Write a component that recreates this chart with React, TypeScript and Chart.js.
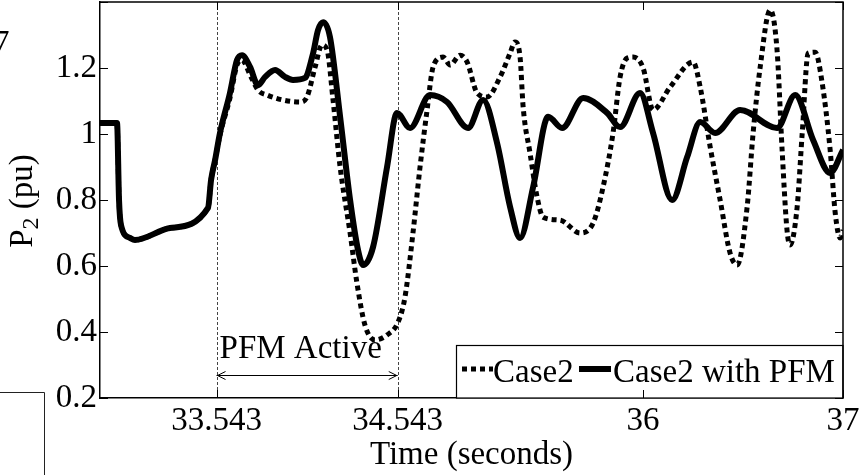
import React, { useEffect, useRef } from "react";
import { Chart, registerables } from "chart.js";

Chart.register(...registerables);

// Time axis (seconds) and tick labels
const xTickValues = [33.543, 34.543, 35.897, 37.0];
const xTickLabels = ["33.543", "34.543", "36", "37"];
const pfmStart = 33.543;
const pfmEnd = 34.543;

// Case2 (dotted)
const case2Time = [
  32.9, 32.994, 33.005, 33.016, 33.066, 33.093, 33.286, 33.496, 33.513, 33.535,
  33.562, 33.617, 33.656, 33.684, 33.728, 33.772, 33.822, 33.91, 34.004, 34.042,
  34.087, 34.125, 34.153, 34.186, 34.225, 34.28, 34.318, 34.362, 34.418, 34.484,
  34.545, 34.583, 34.627, 34.666, 34.705, 34.738, 34.793, 34.832, 34.887, 34.926,
  34.981, 35.036, 35.108, 35.163, 35.19, 35.218, 35.235, 35.273, 35.312, 35.345,
  35.439, 35.549, 35.621, 35.676, 35.731, 35.77, 35.809, 35.842, 35.897, 35.952,
  36.046, 36.173, 36.212, 36.267, 36.322, 36.377, 36.416, 36.471, 36.504, 36.543,
  36.598, 36.636, 36.664, 36.691, 36.708, 36.747, 36.775, 36.808, 36.846, 36.885,
  36.929, 36.957, 36.984, 37.0,
];
const case2Power = [
  1.033, 1.033, 0.8, 0.724, 0.685, 0.679, 0.715, 0.776, 0.861, 0.921,
  0.997, 1.109, 1.209, 1.224, 1.179, 1.133, 1.118, 1.103, 1.097, 1.112,
  1.203, 1.27, 1.255, 1.103, 0.9, 0.7, 0.548, 0.421, 0.376, 0.391,
  0.43, 0.506, 0.7, 0.9, 1.073, 1.203, 1.233, 1.209, 1.239, 1.218,
  1.124, 1.112, 1.173, 1.245, 1.279, 1.233, 1.082, 0.942, 0.809, 0.748,
  0.739, 0.7, 0.73, 0.839, 1.003, 1.173, 1.23, 1.233, 1.2, 1.073,
  1.142, 1.218, 1.142, 0.961, 0.8, 0.639, 0.603, 0.779, 1.003, 1.203,
  1.376, 1.255, 0.952, 0.709, 0.664, 0.779, 1.003, 1.245, 1.248, 1.155,
  0.952, 0.761, 0.685, 0.709,
];

// Case2 with PFM (solid)
const pfmTime = [
  32.9, 32.994, 33.005, 33.016, 33.066, 33.093, 33.286, 33.496, 33.513, 33.535,
  33.562, 33.617, 33.656, 33.684, 33.728, 33.772, 33.811, 33.866, 33.921, 33.965,
  34.031, 34.076, 34.103, 34.131, 34.169, 34.225, 34.28, 34.324, 34.352, 34.407,
  34.484, 34.539, 34.611, 34.721, 34.815, 34.931, 35.014, 35.091, 35.163, 35.218,
  35.29, 35.373, 35.45, 35.566, 35.698, 35.77, 35.88, 35.952, 36.057, 36.14,
  36.212, 36.294, 36.432, 36.636, 36.736, 36.835, 36.929, 37.0,
];
const pfmPower = [
  1.033, 1.033, 0.8, 0.724, 0.685, 0.679, 0.715, 0.776, 0.861, 0.921,
  1.003, 1.124, 1.224, 1.239, 1.203, 1.148, 1.173, 1.194, 1.173, 1.164,
  1.17, 1.245, 1.315, 1.339, 1.294, 1.052, 0.8, 0.648, 0.603, 0.658,
  0.9, 1.064, 1.018, 1.118, 1.097, 1.018, 1.103, 0.973, 0.779, 0.685,
  0.839, 1.052, 1.018, 1.109, 1.064, 1.021, 1.124, 1.003, 0.8, 0.93,
  1.036, 1.003, 1.073, 1.018, 1.118, 0.982, 0.882, 0.952,
];

const FONT = "'Liberation Serif', 'Times New Roman', serif";

const overlayPlugin = {
  id: "matlabOverlay",
  beforeDatasetsDraw(chart: any) {
    const { ctx, chartArea, scales } = chart;
    const x = scales.x;
    ctx.save();
    ctx.strokeStyle = "#444";
    ctx.lineWidth = 1;
    ctx.setLineDash([3, 2]);
    [pfmStart, pfmEnd].forEach((t) => {
      const px = Math.round(x.getPixelForValue(t)) + 0.5;
      ctx.beginPath();
      ctx.moveTo(px, chartArea.top);
      ctx.lineTo(px, chartArea.bottom);
      ctx.stroke();
    });
    ctx.restore();
  },
  afterDraw(chart: any) {
    const { ctx, chartArea, scales } = chart;
    const x = scales.x;
    const y = scales.y;
    const { left, right, top, bottom } = chartArea;
    ctx.save();

    // arrow + text
    const a = x.getPixelForValue(pfmStart);
    const b = x.getPixelForValue(pfmEnd);
    const ay = 375.5;
    ctx.strokeStyle = "#000";
    ctx.lineWidth = 1;
    ctx.setLineDash([]);
    ctx.beginPath();
    ctx.moveTo(a, ay);
    ctx.lineTo(b, ay);
    ctx.moveTo(a + 9, ay - 4);
    ctx.lineTo(a + 1, ay);
    ctx.lineTo(a + 9, ay + 4);
    ctx.moveTo(b - 9, ay - 4);
    ctx.lineTo(b - 1, ay);
    ctx.lineTo(b - 9, ay + 4);
    ctx.stroke();
    ctx.fillStyle = "#000";
    ctx.font = `33px ${FONT}`;
    ctx.textAlign = "left";
    ctx.textBaseline = "alphabetic";
    ctx.fillText("PFM Active", a + 3, 358);

    // legend
    const lx0 = 456.5, ly0 = 345.5, lx1 = right, ly1 = bottom;
    ctx.fillStyle = "#fff";
    ctx.fillRect(lx0, ly0, lx1 - lx0, ly1 - ly0);
    ctx.strokeStyle = "#000";
    ctx.lineWidth = 1.2;
    ctx.strokeRect(lx0, ly0, lx1 - lx0, ly1 - ly0);
    ctx.lineWidth = 5;
    ctx.lineCap = "butt";
    ctx.setLineDash([5, 4]);
    ctx.beginPath();
    ctx.moveTo(462, 369);
    ctx.lineTo(493, 369);
    ctx.stroke();
    ctx.setLineDash([]);
    ctx.lineWidth = 6;
    ctx.beginPath();
    ctx.moveTo(579, 369);
    ctx.lineTo(611, 369);
    ctx.stroke();
    ctx.fillStyle = "#000";
    ctx.font = `33px ${FONT}`;
    ctx.fillText("Case2", 493, 382);
    ctx.fillText("Case2 with PFM", 613, 382);

    // box top & right, inward ticks
    ctx.strokeStyle = "#000";
    ctx.lineWidth = 1.5;
    ctx.beginPath();
    ctx.moveTo(left, top);
    ctx.lineTo(right, top);
    ctx.lineTo(right, bottom);
    ctx.stroke();
    ctx.lineWidth = 1;
    ctx.beginPath();
    y.ticks.forEach((t: any) => {
      const py = Math.round(y.getPixelForValue(t.value)) + 0.5;
      ctx.moveTo(left, py);
      ctx.lineTo(left + 8, py);
      ctx.moveTo(right, py);
      ctx.lineTo(right - 8, py);
    });
    x.ticks.forEach((t: any) => {
      const px = Math.round(x.getPixelForValue(t.value)) + 0.5;
      ctx.moveTo(px, top);
      ctx.lineTo(px, top + 8);
      ctx.moveTo(px, bottom);
      ctx.lineTo(px, bottom - 8);
    });
    ctx.stroke();

    // y title P_2 (pu)
    ctx.save();
    ctx.translate(32, 201);
    ctx.rotate(-Math.PI / 2);
    ctx.fillStyle = "#000";
    ctx.textAlign = "left";
    ctx.textBaseline = "alphabetic";
    ctx.font = `33px ${FONT}`;
    const wP = ctx.measureText("P").width;
    const wRest = ctx.measureText(" (pu)").width;
    ctx.font = `24px ${FONT}`;
    const w2 = ctx.measureText("2").width;
    const total = wP + w2 + wRest;
    let cx = -total / 2;
    ctx.font = `33px ${FONT}`;
    ctx.fillText("P", cx, 0);
    cx += wP;
    ctx.font = `24px ${FONT}`;
    ctx.fillText("2", cx, 6);
    cx += w2;
    ctx.font = `33px ${FONT}`;
    ctx.fillText(" (pu)", cx, 0);
    ctx.restore();

    // x title
    ctx.font = `33px ${FONT}`;
    ctx.textAlign = "center";
    ctx.fillText("Time (seconds)", (left + right) / 2, 464);

    // fragments of neighbouring figure
    ctx.textAlign = "left";
    ctx.fillText("7", -7, 53);
    ctx.strokeStyle = "#222";
    ctx.lineWidth = 1;
    ctx.beginPath();
    ctx.moveTo(0, 392.5);
    ctx.lineTo(44.5, 392.5);
    ctx.lineTo(44.5, 475);
    ctx.stroke();

    ctx.restore();
  },
};

export default function App() {
  const ref = useRef<HTMLCanvasElement | null>(null);
  useEffect(() => {
    document.body.style.margin = "0";
    const canvas = ref.current!;
    const chart = new Chart(canvas, {
      type: "line",
      data: {
        datasets: [
          {
            label: "Case2 with PFM",
            data: pfmTime.map((t, i) => ({ x: t, y: pfmPower[i] })),
            borderColor: "#000",
            borderWidth: 6,
            pointRadius: 0,
            cubicInterpolationMode: "monotone",
            fill: false,
            order: 0,
          },
          {
            label: "Case2",
            data: case2Time.map((t, i) => ({ x: t, y: case2Power[i] })),
            borderColor: "#000",
            borderWidth: 5,
            borderDash: [5, 4],
            borderCapStyle: "butt",
            pointRadius: 0,
            cubicInterpolationMode: "monotone",
            fill: false,
            order: 1,
          },
        ],
      },
      options: {
        responsive: false,
        animation: false,
        devicePixelRatio: 1,
        layout: { padding: { top: 2, right: 18, left: 0, bottom: 0 } },
        plugins: { legend: { display: false }, tooltip: { enabled: false } },
        font: { family: FONT },
        scales: {
          x: {
            type: "linear",
            min: 32.9,
            max: 37.0,
            afterBuildTicks: (scale: any) => {
              scale.ticks = xTickValues.map((v) => ({ value: v }));
            },
            afterFit: (scale: any) => {
              scale.height = 77;
              scale.paddingLeft = 0;
              scale.paddingRight = 0;
            },
            ticks: {
              color: "#000",
              font: { family: FONT, size: 33 },
              padding: 4,
              maxRotation: 0,
              autoSkip: false,
              callback: (_v: any, i: number) => xTickLabels[i],
            },
            grid: { display: false, drawTicks: false },
            border: { display: true, color: "#000", width: 1.5 },
          },
          y: {
            type: "linear",
            min: 0.2,
            max: 1.4,
            afterFit: (scale: any) => {
              scale.width = 100;
              scale.paddingTop = 0;
              scale.paddingBottom = 0;
            },
            ticks: {
              stepSize: 0.2,
              color: "#000",
              font: { family: FONT, size: 33 },
              padding: 3,
              callback: (v: any) => {
                const n = Number(v);
                if (Math.abs(n - 1.4) < 1e-6) return "";
                return String(Number(n.toFixed(1)));
              },
            },
            grid: { display: false, drawTicks: false },
            border: { display: true, color: "#000", width: 1.5 },
          },
        },
      },
      plugins: [overlayPlugin],
    } as any);
    return () => chart.destroy();
  }, []);
  return (
    <canvas
      ref={ref}
      width={861}
      height={475}
      style={{ display: "block", width: 861, height: 475 }}
    />
  );
}
